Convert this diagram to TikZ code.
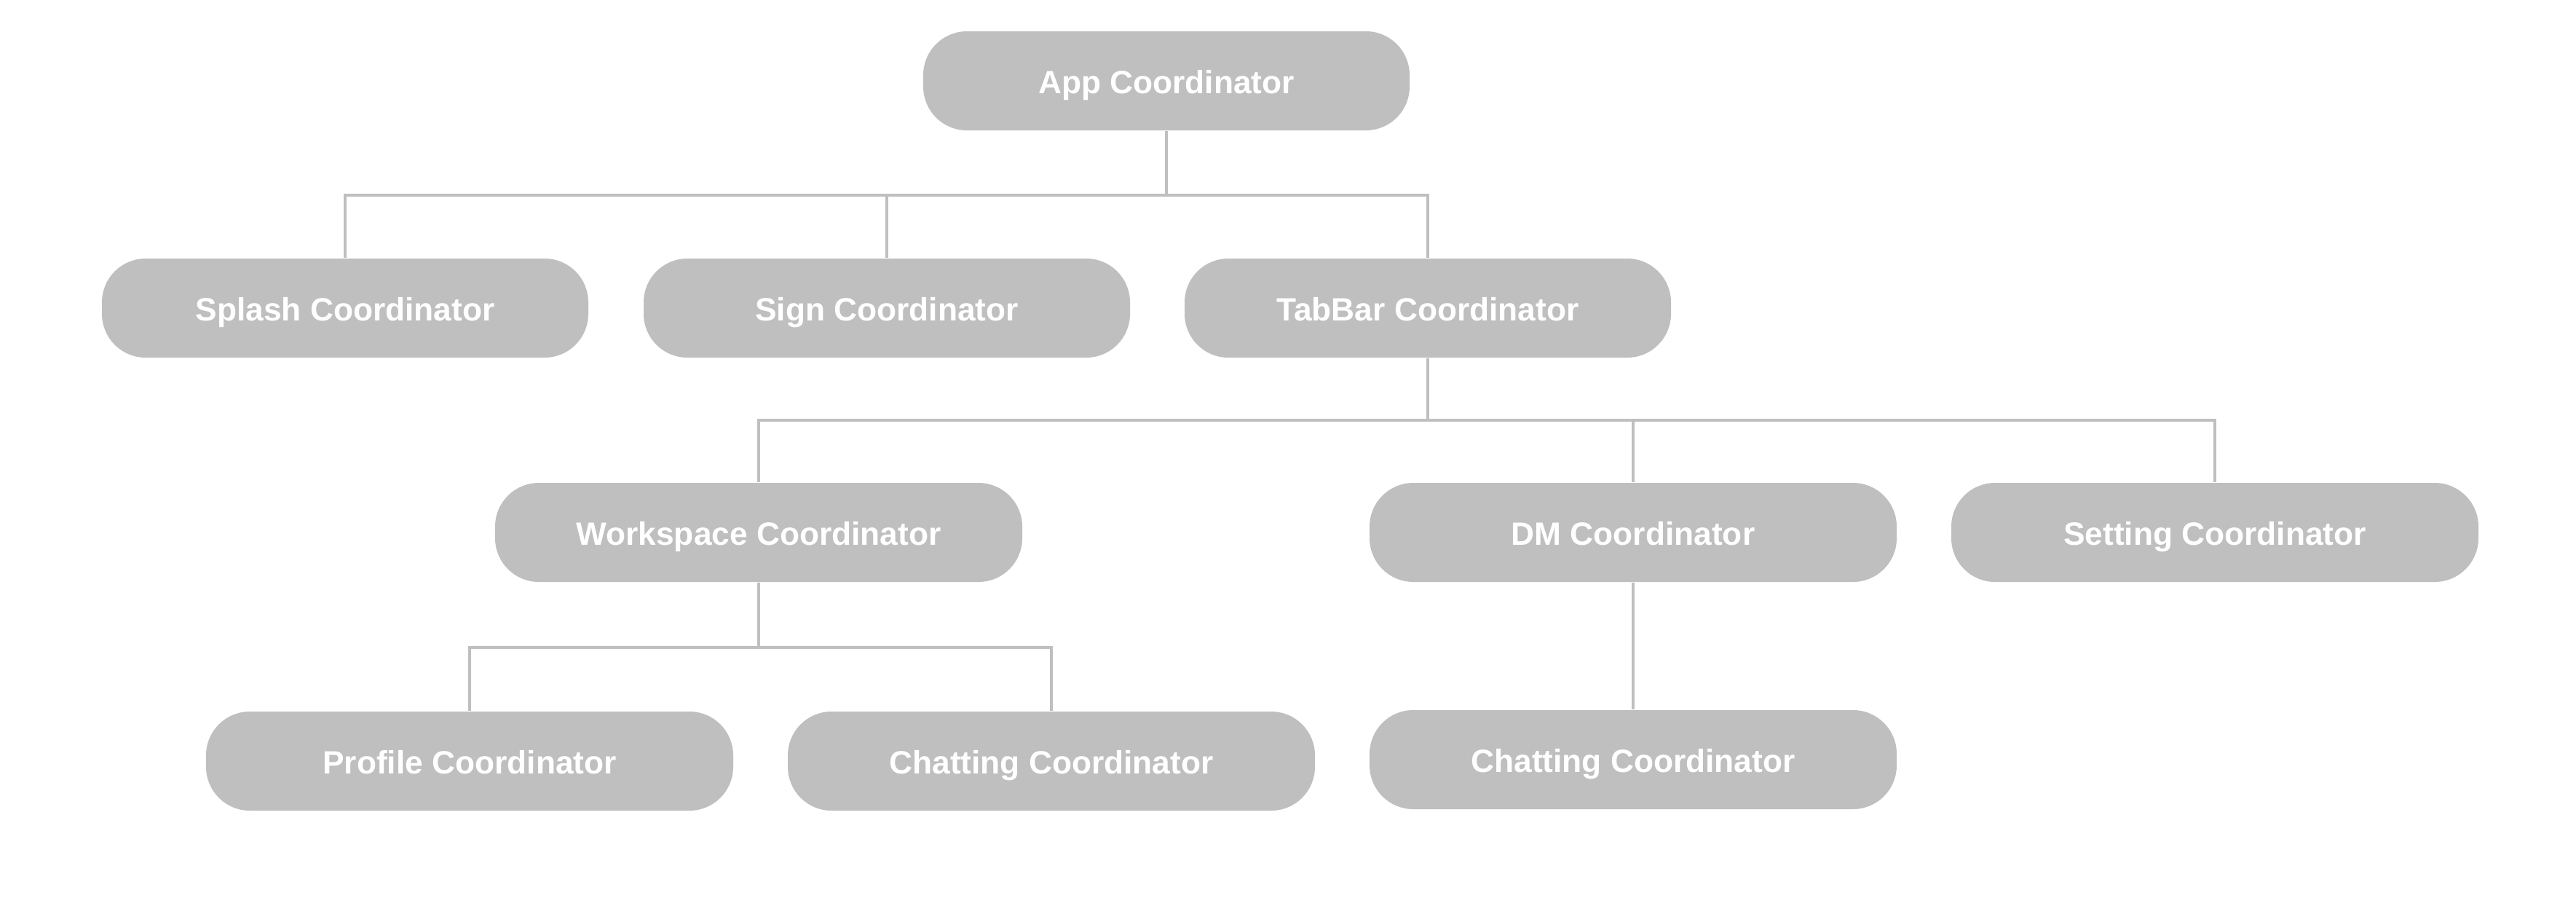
\documentclass[tikz,border=0pt]{standalone}
\usepackage{fontspec}
\setmainfont{Liberation Sans}
\usepackage{tikz}
\definecolor{boxgray}{RGB}{191,191,191}
\tikzset{
    coord/.style = {fill = boxgray, text = white, rounded corners = 0.6cm,
        minimum width = 6.68cm, minimum height = 1.36cm, inner sep = 0pt,
        text height = 12pt, text depth = 1.8pt,
        font = \fontsize{12.6}{15}\selectfont\bfseries},
    coordwide/.style = {coord, minimum width = 7.24cm},
    link/.style = {draw = boxgray, line width = 1.1pt}
}

\begin{document}
\begin{tikzpicture}
        \useasboundingbox (0, 0) rectangle (35.38, -12.32);

        \node[coord] (app) at (16.02, -1.11) {App Coordinator};

        \node[coord] (splash) at (4.74, -4.23) {Splash Coordinator};
        \node[coord] (sign) at (12.18, -4.23) {Sign Coordinator};
        \node[coord] (tabbar) at (19.61, -4.23) {TabBar Coordinator};

        \node[coordwide] (workspace) at (10.42, -7.31) {Workspace Coordinator};
        \node[coordwide] (dm) at (22.43, -7.31) {DM Coordinator};
        \node[coordwide] (setting) at (30.42, -7.31) {Setting Coordinator};

        \node[coordwide] (profile) at (6.45, -10.45) {Profile Coordinator};
        \node[coordwide] (chat) at (14.44, -10.45) {Chatting Coordinator};
        \node[coordwide] (dmchat) at (22.43, -10.43) {Chatting Coordinator};

        \draw[link] (app.south) -- ++(0, -0.88) -| (splash.north);
        \draw[link] (app.south) -- ++(0, -0.88) -| (sign.north);
        \draw[link] (app.south) -- ++(0, -0.88) -| (tabbar.north);

        \draw[link] (tabbar.south) -- ++(0, -0.85) -| (workspace.north);
        \draw[link] (tabbar.south) -- ++(0, -0.85) -| (dm.north);
        \draw[link] (tabbar.south) -- ++(0, -0.85) -| (setting.north);

        \draw[link] (workspace.south) -- ++(0, -0.89) -| (profile.north);
        \draw[link] (workspace.south) -- ++(0, -0.89) -| (chat.north);

        \draw[link] (dm.south) -- (dmchat.north);

    \end{tikzpicture}
\end{document}
